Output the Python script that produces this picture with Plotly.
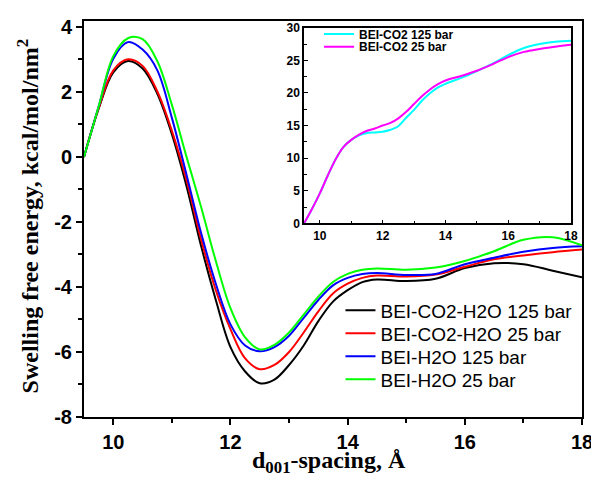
import plotly.graph_objects as go

# ---------------- main panel data ----------------
x_main = [9.5, 9.75, 10.0, 10.25, 10.5, 10.75, 11.0, 11.25, 11.5, 11.75, 12.0, 12.25,
          12.5, 12.75, 13.0, 13.25, 13.5, 13.75, 14.0, 14.25, 14.5, 15.0, 15.5, 16.0,
          16.5, 17.0, 17.5, 18.0]

co2_h2o_125 = [0, 1.48, 2.6, 2.95, 2.72, 1.95, 0.7, -0.9, -2.75, -4.4, -5.85, -6.6,
               -6.96, -6.85, -6.4, -5.8, -5.05, -4.45, -4.1, -3.85, -3.77, -3.82, -3.75, -3.42,
               -3.27, -3.3, -3.5, -3.7]
co2_h2o_25 = [0, 1.5, 2.66, 3.0, 2.8, 2.02, 0.8, -0.72, -2.55, -4.1, -5.3, -6.2,
              -6.53, -6.4, -6.0, -5.4, -4.75, -4.2, -3.9, -3.72, -3.65, -3.68, -3.62, -3.38,
              -3.15, -3.03, -2.93, -2.85]
h2o_125 = [0, 1.55, 3.02, 3.53, 3.3, 2.67, 1.2, -0.55, -2.35, -3.9, -5.15, -5.8,
           -5.98, -5.85, -5.5, -4.95, -4.4, -3.95, -3.72, -3.6, -3.57, -3.63, -3.6, -3.3,
           -3.1, -2.92, -2.8, -2.75]
h2o_25 = [0, 1.55, 3.1, 3.65, 3.62, 2.95, 1.6, 0.0, -1.55, -3.2, -4.65, -5.55,
          -5.92, -5.78, -5.4, -4.85, -4.3, -3.85, -3.6, -3.47, -3.43, -3.47, -3.4, -3.2,
          -2.9, -2.55, -2.47, -2.72]

main_names = ["BEI-CO2-H2O 125 bar", "BEI-CO2-H2O 25 bar", "BEI-H2O 125 bar", "BEI-H2O 25 bar"]
main_colors = ["#000000", "#ff0000", "#0000ff", "#00ff00"]

main_yticks = [-8, -6, -4, -2, 0, 2, 4]
main_yticktext = ["-8", "-6", "-4", "-2", "0", "2", "4"]
main_xticks = [10, 12, 14, 16, 18]

# ---------------- inset data ----------------
x_inset = [9.5, 9.75, 10.0, 10.25, 10.5, 10.75, 11.0, 11.25, 11.5, 11.75, 12.0, 12.25,
           12.5, 12.75, 13.0, 13.25, 13.5, 13.75, 14.0, 14.5, 15.0, 15.5, 16.0, 16.5,
           17.0, 17.5, 18.0]
co2_125 = [0, 2.2, 4.6, 7.3, 9.8, 11.7, 12.8, 13.5, 13.85, 13.95, 14.05, 14.35,
           14.9, 16.2, 17.4, 18.8, 19.9, 20.8, 21.4, 22.3, 23.35, 24.5, 25.8, 26.9,
           27.5, 27.85, 28.0]
co2_25 = [0, 2.2, 4.6, 7.3, 9.8, 11.7, 12.8, 13.6, 14.2, 14.55, 15.0, 15.4,
          16.1, 17.1, 18.3, 19.5, 20.5, 21.3, 21.9, 22.6, 23.4, 24.4, 25.5, 26.3,
          26.75, 27.1, 27.4]
inset_names = ["BEI-CO2 125 bar", "BEI-CO2 25 bar"]
inset_colors = ["#00ffff", "#ff00ff"]

sans = "Liberation Sans"
serif = "Liberation Serif"

fig = go.Figure()
main_legends = ["legend", "legend2", "legend3", "legend4"]
for y, n, c, lg in zip([co2_h2o_125, co2_h2o_25, h2o_125, h2o_25], main_names, main_colors, main_legends):
    fig.add_trace(go.Scatter(x=x_main, y=y, name=n, mode="lines",
                             line=dict(color=c, width=2, shape="spline"),
                             xaxis="x", yaxis="y", legend=lg))
inset_legends = ["legend5", "legend6"]
for y, n, c, lg in zip([co2_125, co2_25], inset_names, inset_colors, inset_legends):
    fig.add_trace(go.Scatter(x=x_inset, y=y, name=n, mode="lines",
                             line=dict(color=c, width=2, shape="spline"),
                             xaxis="x2", yaxis="y2", legend=lg))

legend_layout = {}
main_rows = [0.269, 0.211, 0.153, 0.095]
for lg, yy in zip(main_legends, main_rows):
    legend_layout[lg] = dict(x=0.515, y=yy, xanchor="left", yanchor="middle",
                             bgcolor="rgba(0,0,0,0)",
                             font=dict(family=sans, size=19, color="black"))
inset_rows = [0.967, 0.935]
for lg, yy in zip(inset_legends, inset_rows):
    legend_layout[lg] = dict(x=0.472, y=yy, xanchor="left", yanchor="middle",
                             bgcolor="rgba(0,0,0,0)",
                             font=dict(family=sans, size=12, weight="bold", color="black"))

fig.update_layout(
    width=591, height=469,
    margin=dict(l=76, r=15, t=6, b=60),
    paper_bgcolor="white", plot_bgcolor="white",
    xaxis=dict(domain=[0, 1], range=[9.5, 18], tickvals=main_xticks,
               showline=True, linecolor="black", linewidth=2, mirror=True,
               ticks="outside", ticklen=6, tickwidth=1.5, tickcolor="black",
               minor=dict(dtick=1, ticks="outside", ticklen=4, tickcolor="black", tickwidth=1.5),
               showgrid=False, zeroline=False,
               tickfont=dict(family=sans, size=20, weight="bold", color="black")),
    yaxis=dict(domain=[0, 1], range=[-8, 4.18], tickvals=main_yticks, ticktext=main_yticktext,
               showline=True, linecolor="black", linewidth=2, mirror=True,
               ticks="outside", ticklen=6, tickwidth=1.5, tickcolor="black",
               minor=dict(dtick=1, ticks="outside", ticklen=4, tickcolor="black", tickwidth=1.5),
               showgrid=False, zeroline=False,
               tickfont=dict(family=sans, size=20, weight="bold", color="black")),
    xaxis2=dict(domain=[0.442, 0.978], anchor="y2", range=[9.5, 18], dtick=2, tick0=10,
                showline=True, linecolor="black", linewidth=1.5, mirror=True,
                ticks="inside", ticklen=4, tickwidth=1, tickcolor="black",
                minor=dict(dtick=1, ticks="inside", ticklen=3, tickcolor="black", tickwidth=1),
                showgrid=False, zeroline=False,
                tickfont=dict(family=sans, size=12, weight="bold", color="black")),
    yaxis2=dict(domain=[0.489, 0.983], anchor="x2", range=[0, 30], dtick=5, tick0=0,
                showline=True, linecolor="black", linewidth=1.5, mirror=True,
                ticks="inside", ticklen=4, tickwidth=1, tickcolor="black",
                minor=dict(dtick=2.5, ticks="inside", ticklen=3, tickcolor="black", tickwidth=1),
                showgrid=False, zeroline=False,
                tickfont=dict(family=sans, size=12, weight="bold", color="black")),
    showlegend=True,
    **legend_layout,
)

fig.add_annotation(text="Swelling free energy, kcal/mol/nm<sup>2</sup>",
                   xref="paper", yref="paper", x=-0.112, y=0.507,
                   xanchor="center", yanchor="middle", textangle=-90, showarrow=False,
                   font=dict(family=serif, size=24, weight="bold", color="black"))
fig.add_annotation(text="d<sub>001</sub>-spacing, Å",
                   xref="paper", yref="paper", x=0.492, y=-0.113,
                   xanchor="center", yanchor="middle", showarrow=False,
                   font=dict(family=serif, size=24, weight="bold", color="black"))

fig.write_html("out.html")
